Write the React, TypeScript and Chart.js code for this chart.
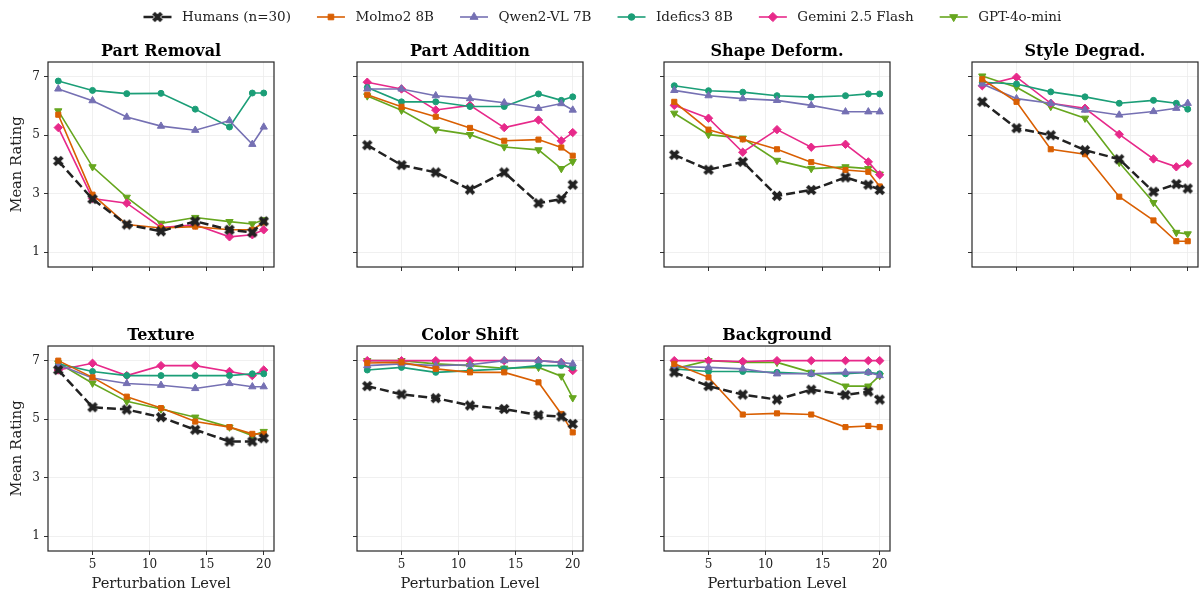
import React, { useEffect, useRef } from 'react';
import { Chart, registerables } from 'chart.js';
import { drawPoint } from 'chart.js/helpers';
Chart.register(...registerables);

const levels = [2, 5, 8, 11, 14, 17, 19, 20];
const xTickValues = [5, 10, 15, 20];
const yTickValues = [1, 3, 5, 7];
const modelNames = ['Humans (n=30)', 'Molmo2 8B', 'Qwen2-VL 7B', 'Idefics3 8B', 'Gemini 2.5 Flash', 'GPT-4o-mini'];
const panelTitles = ['Part Removal', 'Part Addition', 'Shape Deform.', 'Style Degrad.', 'Texture', 'Color Shift', 'Background'];

// each row: Humans, Molmo2, Qwen2-VL, Idefics3, Gemini, GPT-4o-mini
const partRemoval = [
  [4.12, 2.82, 1.95, 1.72, 2.06, 1.77, 1.68, 2.06],
  [5.70, 2.97, 1.95, 1.83, 1.88, 1.77, 1.77, 2.02],
  [6.58, 6.18, 5.62, 5.31, 5.17, 5.50, 4.69, 5.28],
  [6.85, 6.53, 6.42, 6.43, 5.89, 5.28, 6.44, 6.44],
  [5.26, 2.84, 2.68, 1.85, 1.94, 1.53, 1.60, 1.77],
  [5.83, 3.92, 2.88, 1.99, 2.19, 2.05, 1.97, 2.11],
];
const partAddition = [
  [4.66, 3.98, 3.73, 3.14, 3.73, 2.68, 2.82, 3.31],
  [6.38, 5.97, 5.63, 5.25, 4.81, 4.85, 4.58, 4.30],
  [6.58, 6.58, 6.35, 6.25, 6.11, 5.92, 6.08, 5.86],
  [6.63, 6.14, 6.14, 5.98, 5.98, 6.41, 6.19, 6.31],
  [6.81, 6.58, 5.86, 6.02, 5.26, 5.52, 4.81, 5.09],
  [6.34, 5.85, 5.20, 5.02, 4.60, 4.50, 3.86, 4.10],
];
const shapeDeform = [
  [4.33, 3.82, 4.09, 2.93, 3.13, 3.56, 3.31, 3.13],
  [6.14, 5.19, 4.86, 4.52, 4.08, 3.81, 3.75, 3.25],
  [6.53, 6.35, 6.25, 6.19, 6.02, 5.80, 5.80, 5.80],
  [6.69, 6.52, 6.47, 6.35, 6.30, 6.35, 6.41, 6.41],
  [6.02, 5.58, 4.42, 5.19, 4.59, 4.69, 4.09, 3.65],
  [5.75, 5.02, 4.90, 4.14, 3.86, 3.92, 3.86, 3.67],
];
const styleDegrad = [
  [6.14, 5.24, 5.00, 4.49, 4.18, 3.07, 3.33, 3.18],
  [6.91, 6.14, 4.52, 4.35, 2.90, 2.09, 1.38, 1.38],
  [6.75, 6.25, 6.09, 5.86, 5.69, 5.81, 5.92, 6.09],
  [6.81, 6.75, 6.48, 6.31, 6.09, 6.19, 6.09, 5.89],
  [6.69, 6.98, 6.09, 5.92, 5.03, 4.19, 3.92, 4.03],
  [7.02, 6.64, 5.98, 5.58, 4.07, 2.70, 1.68, 1.63],
];
const texture = [
  [6.68, 5.41, 5.33, 5.07, 4.64, 4.24, 4.24, 4.35],
  [7.00, 6.43, 5.77, 5.38, 4.92, 4.73, 4.50, 4.50],
  [6.86, 6.41, 6.22, 6.16, 6.05, 6.22, 6.11, 6.11],
  [6.89, 6.63, 6.49, 6.49, 6.49, 6.49, 6.55, 6.55],
  [6.68, 6.91, 6.49, 6.83, 6.83, 6.63, 6.49, 6.68],
  [6.92, 6.23, 5.61, 5.35, 5.07, 4.73, 4.44, 4.58],
];
const colorShift = [
  [6.13, 5.85, 5.72, 5.47, 5.35, 5.14, 5.09, 4.84],
  [6.92, 6.94, 6.72, 6.60, 6.60, 6.26, 5.18, 4.55],
  [6.83, 6.89, 6.83, 6.86, 7.00, 7.00, 6.94, 6.89],
  [6.68, 6.77, 6.60, 6.66, 6.72, 6.83, 6.83, 6.77],
  [7.00, 7.00, 7.00, 7.00, 7.00, 7.00, 6.94, 6.66],
  [7.00, 7.00, 6.89, 6.83, 6.74, 6.77, 6.47, 5.73],
];
const background = [
  [6.60, 6.13, 5.84, 5.67, 6.01, 5.83, 5.94, 5.67],
  [6.89, 6.43, 5.16, 5.20, 5.16, 4.73, 4.77, 4.73],
  [6.80, 6.77, 6.72, 6.55, 6.55, 6.60, 6.60, 6.49],
  [6.72, 6.63, 6.63, 6.60, 6.55, 6.55, 6.60, 6.55],
  [7.00, 7.00, 6.97, 7.00, 7.00, 7.00, 7.00, 7.00],
  [6.72, 7.00, 6.94, 6.94, 6.60, 6.13, 6.13, 6.49],
];
const panelData = [partRemoval, partAddition, shapeDeform, styleDegrad, texture, colorShift, background];

const FONT = "'DejaVu Serif', serif";
const colors = ['#222222', '#d95f02', '#7570b3', '#1b9e77', '#e7298a', '#66a61e'];
const colLefts = [48, 356.7, 664.3, 972];
const rowTops = [61.7, 345.7];
const AX_W = 228;
const AX_H = 205;
const Y_BOX = 48;
const TOP_PAD = 30;
const X_BOX = 45;
const CW = Y_BOX + AX_W + 4;
const CH = TOP_PAD + AX_H + X_BOX;

function makeXMarker(): HTMLCanvasElement {
  const c = document.createElement('canvas');
  c.width = 12;
  c.height = 12;
  const ctx = c.getContext('2d')!;
  ctx.translate(6, 6);
  ctx.rotate(Math.PI / 4);
  ctx.fillStyle = '#222222';
  ctx.fillRect(-5.5, -1.9, 11, 3.8);
  ctx.fillRect(-1.9, -5.5, 3.8, 11);
  return c;
}

function seriesStyles(xMarker: HTMLCanvasElement) {
  return [
    { pointStyle: xMarker as any, radius: 5, rotation: 0, dash: [9, 4], width: 2.5 },
    { pointStyle: 'rect', radius: 3.6, rotation: 0, dash: [], width: 1.6 },
    { pointStyle: 'triangle', radius: 4.2, rotation: 0, dash: [], width: 1.6 },
    { pointStyle: 'circle', radius: 3, rotation: 0, dash: [], width: 1.6 },
    { pointStyle: 'rectRot', radius: 4.2, rotation: 0, dash: [], width: 1.6 },
    { pointStyle: 'triangle', radius: 4.2, rotation: 180, dash: [], width: 1.6 },
  ];
}

function Panel({ idx, xMarker }: { idx: number; xMarker: HTMLCanvasElement }) {
  const ref = useRef<HTMLCanvasElement>(null);
  useEffect(() => {
    const styles = seriesStyles(xMarker);
    const series = panelData[idx];
    const col = idx % 4;
    const row = Math.floor(idx / 4);
    const showY = col === 0;
    const showX = row === 1;
    const title = panelTitles[idx];
    const framePlugin = {
      id: 'frame' + idx,
      afterDraw(chart: any) {
        const { ctx, chartArea } = chart;
        ctx.save();
        ctx.strokeStyle = '#262626';
        ctx.lineWidth = 1.2;
        ctx.strokeRect(chartArea.left, chartArea.top, chartArea.right - chartArea.left, chartArea.bottom - chartArea.top);
        ctx.fillStyle = '#000';
        ctx.font = `bold 16px ${FONT}`;
        ctx.textAlign = 'center';
        ctx.textBaseline = 'alphabetic';
        ctx.fillText(title, (chartArea.left + chartArea.right) / 2, chartArea.top - 6);
        ctx.restore();
      },
    };
    const chart = new Chart(ref.current!, {
      type: 'line',
      data: {
        datasets: series.map((vals, si) => ({
          label: modelNames[si],
          data: vals.map((v, i) => ({ x: levels[i], y: v })),
          borderColor: colors[si],
          backgroundColor: colors[si],
          borderWidth: styles[si].width,
          borderDash: styles[si].dash,
          pointStyle: styles[si].pointStyle,
          pointRadius: styles[si].radius,
          pointRotation: styles[si].rotation,
          pointBorderWidth: 1,
          pointBorderColor: colors[si],
          pointBackgroundColor: colors[si],
          tension: 0,
        })),
      },
      options: {
        responsive: false,
        animation: false,
        devicePixelRatio: 1,
        layout: { padding: { top: TOP_PAD, right: CW - Y_BOX - AX_W, left: 0, bottom: 0 } },
        plugins: { legend: { display: false }, tooltip: { enabled: false }, title: { display: false } },
        scales: {
          x: {
            type: 'linear',
            min: 1.1,
            max: 20.9,
            afterFit: (s: any) => { s.height = X_BOX; },
            afterBuildTicks: (s: any) => { s.ticks = xTickValues.map((v) => ({ value: v })); },
            border: { display: false },
            grid: { color: '#ececec', lineWidth: 0.8, tickColor: '#333', tickLength: 4, tickWidth: 1 },
            ticks: {
              color: '#222',
              font: { family: FONT, size: 12 },
              padding: 3,
              maxRotation: 0,
              callback: (v: any) => (showX ? String(v) : ''),
            },
            title: {
              display: showX,
              text: 'Perturbation Level',
              color: '#222',
              font: { family: FONT, size: 14.7 },
              padding: { top: 0, bottom: 3 },
            },
          },
          y: {
            type: 'linear',
            min: 0.5,
            max: 7.5,
            afterFit: (s: any) => { s.width = Y_BOX; },
            afterBuildTicks: (s: any) => { s.ticks = yTickValues.map((v) => ({ value: v })); },
            border: { display: false },
            grid: { color: '#ececec', lineWidth: 0.8, tickColor: '#333', tickLength: 4, tickWidth: 1 },
            ticks: {
              color: '#222',
              font: { family: FONT, size: 12 },
              padding: 4,
              callback: (v: any) => (showY ? String(v) : ''),
            },
            title: {
              display: showY,
              text: 'Mean Rating',
              color: '#222',
              font: { family: FONT, size: 14.7 },
              padding: { top: 8, bottom: 0 },
            },
          },
        },
      },
      plugins: [framePlugin],
    } as any);
    return () => chart.destroy();
  }, [idx, xMarker]);
  const col = idx % 4;
  const row = Math.floor(idx / 4);
  return (
    <canvas
      ref={ref}
      width={CW}
      height={CH}
      style={{ position: 'absolute', left: colLefts[col] - Y_BOX, top: rowTops[row] - TOP_PAD, width: CW, height: CH }}
    />
  );
}

function Legend({ xMarker }: { xMarker: HTMLCanvasElement }) {
  const ref = useRef<HTMLCanvasElement>(null);
  useEffect(() => {
    const styles = seriesStyles(xMarker);
    const legendPlugin = {
      id: 'customLegend',
      afterDraw(chart: any) {
        const ctx = chart.ctx as CanvasRenderingContext2D;
        ctx.save();
        ctx.font = `13.5px ${FONT}`;
        let x = 143.5;
        const y = 17;
        modelNames.forEach((name, i) => {
          ctx.strokeStyle = colors[i];
          ctx.fillStyle = colors[i];
          ctx.lineWidth = styles[i].width;
          ctx.setLineDash(i === 0 ? [10, 8] : []);
          ctx.beginPath();
          ctx.moveTo(x, y);
          ctx.lineTo(x + 28, y);
          ctx.stroke();
          ctx.setLineDash([]);
          ctx.lineWidth = 1;
          drawPoint(ctx, { pointStyle: styles[i].pointStyle, radius: styles[i].radius * 1.1, rotation: styles[i].rotation, borderWidth: 1 } as any, x + 14, y);
          ctx.fillStyle = '#222';
          ctx.textAlign = 'left';
          ctx.textBaseline = 'middle';
          ctx.fillText(name, x + 38.5, y);
          x = x + 38.5 + ctx.measureText(name).width + 26;
        });
        ctx.restore();
      },
    };
    const chart = new Chart(ref.current!, {
      type: 'line',
      data: { datasets: [] },
      options: {
        responsive: false,
        animation: false,
        devicePixelRatio: 1,
        plugins: { legend: { display: false }, tooltip: { enabled: false } },
        scales: { x: { display: false }, y: { display: false } },
      },
      plugins: [legendPlugin],
    } as any);
    return () => chart.destroy();
  }, [xMarker]);
  return <canvas ref={ref} width={1202} height={34} style={{ position: 'absolute', left: 0, top: 0, width: 1202, height: 34 }} />;
}

export default function App() {
  const markerRef = useRef<HTMLCanvasElement | null>(null);
  if (!markerRef.current) markerRef.current = makeXMarker();
  const xMarker = markerRef.current;
  return (
    <div style={{ position: 'fixed', left: 0, top: 0, width: 1202, height: 597, background: '#fff', overflow: 'hidden' }}>
      <Legend xMarker={xMarker} />
      {panelTitles.map((_, i) => (
        <Panel key={i} idx={i} xMarker={xMarker} />
      ))}
    </div>
  );
}
